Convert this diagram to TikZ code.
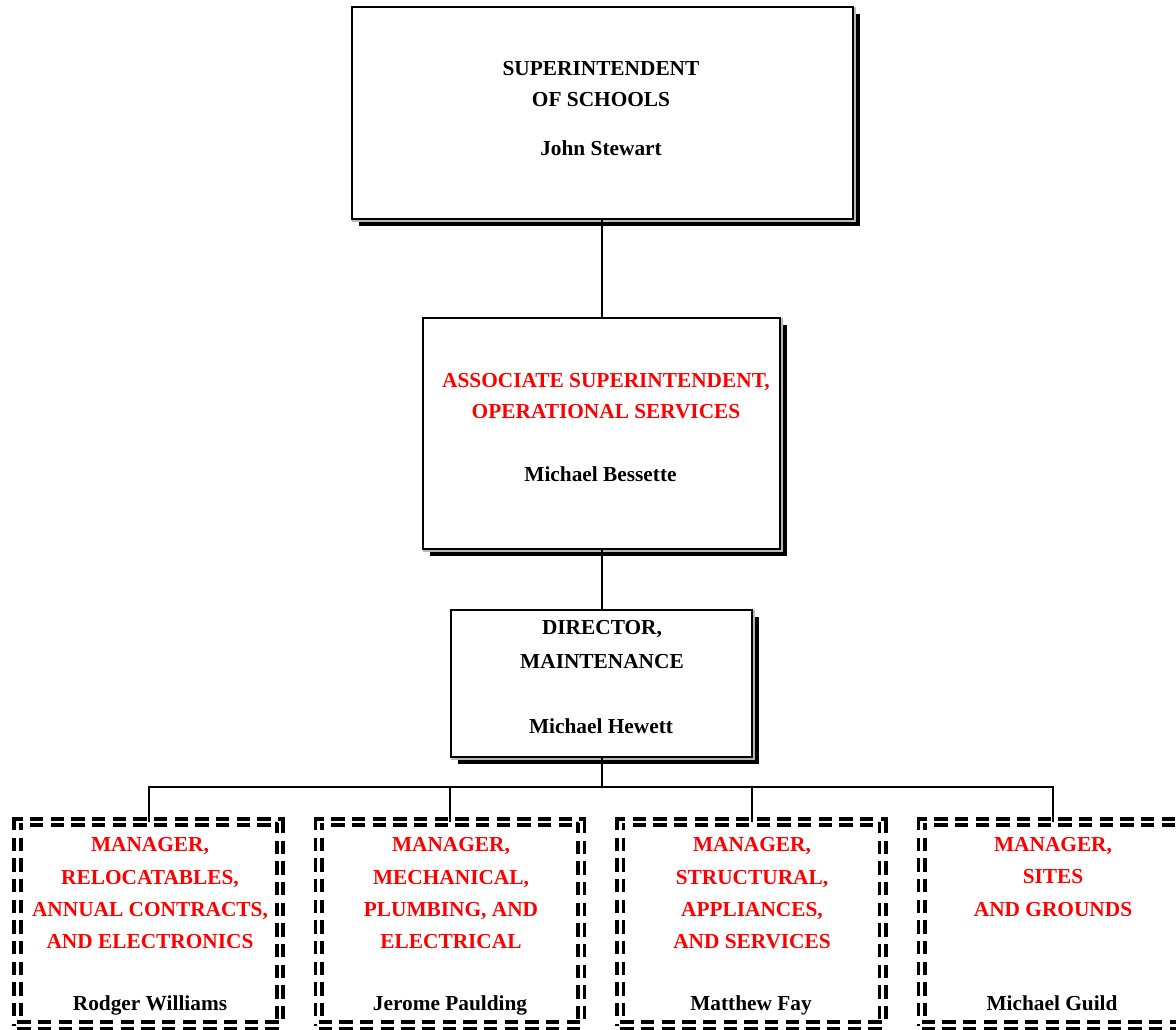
\documentclass[tikz,border=0pt]{standalone}
\usepackage{fontspec}
\setmainfont{Liberation Serif}
\usetikzlibrary{shadows}
\begin{document}
\begin{tikzpicture}[x=0.75pt,y=-0.75pt,
  txt/.style={font=\bfseries\fontsize{16}{23.25}\selectfont, align=center, inner sep=0pt},
  redtxt/.style={txt, text=red},
  sbox/.style={draw=black, fill=white, line width=1.4pt, outer sep=0pt, inner sep=0pt,
    general shadow={fill=black, shadow xshift=5.2pt, shadow yshift=-5.2pt}},
  dbox/.style={draw=black, line width=2.9pt, double=white, double distance=2pt,
    dash pattern=on 10pt off 5.5pt, outer sep=0pt, inner sep=0pt,
    minimum width=196.9pt, minimum height=152.6pt},
  conn/.style={line width=1.5pt},
  glow/.style={gray!55, line width=1.4pt}]
\useasboundingbox (0,0) rectangle (1176,1029);

% solid boxes
\node[sbox, minimum width=375.75pt, minimum height=159pt] (sup) at (602.5,113) {};
\node[sbox, minimum width=267.75pt, minimum height=173.25pt] (asc) at (601.5,433.5) {};
\node[sbox, minimum width=225.75pt, minimum height=110.25pt] (dir) at (601.5,683.5) {};
\foreach \n in {sup,asc,dir}
  \draw[glow] ([xshift=1.4pt]\n.north east) -- ([xshift=1.4pt,yshift=-1.4pt]\n.south east) -- ([yshift=-1.4pt]\n.south west);

% dashed boxes
\node[dbox] (m1) at (148.75,923.75) {};
\node[dbox] (m2) at (450,923.75) {};
\node[dbox] (m3) at (751.5,923.75) {};
\node[dbox] (m4) at (1053,923.75) {};

% texts
\node[txt] (supT) at (601,84) {SUPERINTENDENT\\OF SCHOOLS};
\node[txt, anchor=base] (supN) at (601,155) {John Stewart};

\node[redtxt] (ascT) at (606,396.5) {ASSOCIATE SUPERINTENDENT,\\OPERATIONAL SERVICES};
\node[txt, anchor=base] (ascN) at (600.5,481) {Michael Bessette};

\node[txt, font=\bfseries\fontsize{16}{25.5}\selectfont] (dirT) at (602,645) {DIRECTOR,\\MAINTENANCE};
\node[txt, anchor=base] (dirN) at (601,733) {Michael Hewett};

\tikzset{mtxt/.style={redtxt, font=\bfseries\fontsize{16}{24.25}\selectfont}}
\node[mtxt] (m1T) at (150,893.5) {MANAGER,\\RELOCATABLES,\\ANNUAL CONTRACTS,\\AND ELECTRONICS};
\node[mtxt] (m2T) at (451,893.5) {MANAGER,\\MECHANICAL,\\PLUMBING, AND\\ELECTRICAL};
\node[mtxt] (m3T) at (752,893.5) {MANAGER,\\STRUCTURAL,\\APPLIANCES,\\AND SERVICES};
\node[mtxt] (m4T) at (1053,877) {MANAGER,\\SITES\\AND GROUNDS};

\node[txt, anchor=base] (m1N) at (150,1010) {Rodger Williams};
\node[txt, anchor=base] (m2N) at (450,1010) {Jerome Paulding};
\node[txt, anchor=base] (m3N) at (751,1010) {Matthew Fay};
\node[txt, anchor=base] (m4N) at (1052,1010) {Michael Guild};

% connectors
\coordinate (bus) at (601.5,787);
\draw[conn] (asc.north |- sup.south) -- (asc.north);
\draw[conn] (asc.south) -- (dir.north);
\draw[conn] (dir.south) -- (bus);
\draw[conn] (m1.north) -- (m1.north |- bus) -- (m4.north |- bus) -- (m4.north);
\draw[conn] (m2.north |- bus) -- (m2.north);
\draw[conn] (m3.north |- bus) -- (m3.north);
\end{tikzpicture}
\end{document}
